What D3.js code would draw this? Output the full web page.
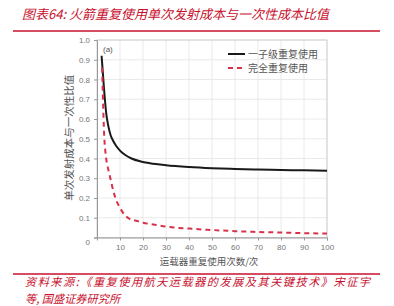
<!DOCTYPE html>
<html>
<head>
<meta charset="utf-8">
<script src="https://cdn.jsdelivr.net/npm/d3@7"></script>
<style>
  body { margin: 0; background: #fff; }
  svg { display: block; }
</style>
</head>
<body>
<div id="chart"></div>
<script>
// --- data ---
var usesOneStage = [2, 2.5, 3, 3.5, 4, 5, 6, 7, 8, 10, 12, 15, 19, 23, 30, 40, 50, 60, 70, 80, 90, 100];
var ratioOneStage = [0.92, 0.84, 0.76, 0.69, 0.63, 0.56, 0.515, 0.49, 0.47, 0.44, 0.42, 0.40, 0.385, 0.376, 0.366, 0.357, 0.351, 0.347, 0.344, 0.342, 0.340, 0.338];
var usesFull = [2.2, 2.5, 2.8, 3.2, 3.6, 4, 5, 6, 7, 8, 10, 12, 14, 17, 20, 25, 30, 40, 50, 60, 70, 80, 90, 100];
var ratioFull = [0.86, 0.74, 0.62, 0.5, 0.44, 0.40, 0.34, 0.29, 0.24, 0.20, 0.15, 0.115, 0.095, 0.085, 0.075, 0.065, 0.055, 0.045, 0.038, 0.032, 0.028, 0.025, 0.022, 0.02];
var xTicks = [10, 20, 30, 40, 50, 60, 70, 80, 90, 100];
var yTicks = [0, 0.1, 0.2, 0.3, 0.4, 0.5, 0.6, 0.7, 0.8, 0.9, 1.0];
var seriesNames = ["一子级重复使用", "完全重复使用"];

var svgWidth = 394, svgHeight = 306;
var margin = { top: 40, right: 67, bottom: 68.5, left: 97 };
var width = svgWidth - margin.left - margin.right;
var height = svgHeight - margin.top - margin.bottom;
var red = "#c8102e";
var cjk = "'Noto Sans CJK SC', sans-serif";

var svg = d3.select("#chart").append("svg").attr("width", svgWidth).attr("height", svgHeight);

// title + rules
svg.append("text").attr("x", 22).attr("y", 19)
  .attr("font-family", cjk).attr("font-size", 13).attr("font-style", "italic")
  .attr("fill", red)
  .text("图表64:  火箭重复使用单次发射成本与一次性成本比值");
svg.append("line").attr("x1", 13).attr("x2", 380).attr("y1", 31).attr("y2", 31)
  .attr("stroke", red).attr("stroke-width", 1.5);
svg.append("line").attr("x1", 13).attr("x2", 380).attr("y1", 274).attr("y2", 274)
  .attr("stroke", red).attr("stroke-width", 1.5);
svg.append("text").attr("x", 25).attr("y", 286)
  .attr("font-family", cjk).attr("font-size", 11.2).attr("font-style", "italic").attr("fill", red)
  .attr("textLength", 345).attr("lengthAdjust", "spacing")
  .text("资料来源:《重复使用航天运载器的发展及其关键技术》宋征宇");
svg.append("text").attr("x", 25).attr("y", 303)
  .attr("font-family", cjk).attr("font-size", 11.2).attr("font-style", "italic").attr("fill", red)
  .text("等, 国盛证券研究所");

var chartGroup = svg.append("g").attr("transform", `translate(${margin.left}, ${margin.top})`);

var x = d3.scaleLinear().domain([0, 100]).range([0, width]);
var y = d3.scaleLinear().domain([0, 1]).range([height, 0]);

// grid
chartGroup.append("g").selectAll("line").data(xTicks).enter().append("line")
  .attr("x1", d => x(d)).attr("x2", d => x(d)).attr("y1", 0).attr("y2", height)
  .attr("stroke", "#e4e4e4").attr("stroke-width", 0.8);
chartGroup.append("g").selectAll("line").data(yTicks.slice(1)).enter().append("line")
  .attr("x1", 0).attr("x2", width).attr("y1", d => y(d)).attr("y2", d => y(d))
  .attr("stroke", "#e4e4e4").attr("stroke-width", 0.8);
chartGroup.append("rect").attr("width", width).attr("height", height)
  .attr("fill", "none").attr("stroke", "#c8c8c8").attr("stroke-width", 0.8);

// axes
var xAxis = chartGroup.append("g").attr("transform", `translate(0, ${height})`)
  .call(d3.axisBottom(x).tickValues(xTicks).tickSize(3).tickPadding(4));
var yAxis = chartGroup.append("g")
  .call(d3.axisLeft(y).tickValues(yTicks).tickSize(3).tickPadding(4)
    .tickFormat(d => d === 0 ? "0" : d3.format(".1f")(d)));
[xAxis, yAxis].forEach(a => {
  a.select(".domain").attr("stroke", "#999");
  a.selectAll(".tick line").attr("stroke", "#999");
  a.selectAll("text").attr("fill", "#777").attr("font-size", 8).attr("font-family", "'Liberation Sans', Arial, sans-serif");
});
yAxis.selectAll(".tick").filter(d => d === 0).select("text").attr("dy", "0.9em");

// labels
chartGroup.append("text").attr("x", width / 2 - 3).attr("y", height + 27)
  .attr("text-anchor", "middle").attr("font-family", cjk).attr("font-size", 9.5).attr("fill", "#555")
  .text("运载器重复使用次数/次");
chartGroup.append("text").attr("transform", `translate(-24, ${height / 2 - 1}) rotate(-90)`)
  .attr("text-anchor", "middle").attr("font-family", cjk).attr("font-size", 10.5).attr("fill", "#555")
  .text("单次发射成本与一次性比值");
chartGroup.append("text").attr("x", 6).attr("y", 12)
  .attr("font-family", "'Liberation Sans', Arial, sans-serif").attr("font-size", 8).attr("fill", "#555")
  .text("(a)");

// curves
var line = d3.line().x(d => x(d[0])).y(d => y(d[1])).curve(d3.curveMonotoneX);
chartGroup.append("path").datum(usesOneStage.map((n, i) => [n, ratioOneStage[i]]))
  .attr("d", line).attr("fill", "none").attr("stroke", "#1a1a1a").attr("stroke-width", 2);
chartGroup.append("path").datum(usesFull.map((n, i) => [n, ratioFull[i]]))
  .attr("d", line).attr("fill", "none").attr("stroke", "#d8324a").attr("stroke-width", 2)
  .attr("stroke-dasharray", "5,4");

// legend
var legend = chartGroup.append("g").attr("transform", "translate(131, 14)");
seriesNames.forEach((name, i) => {
  legend.append("line").attr("x1", 0).attr("x2", 17).attr("y1", i * 14).attr("y2", i * 14)
    .attr("stroke", i === 0 ? "#1a1a1a" : "#d8324a").attr("stroke-width", 2)
    .attr("stroke-dasharray", i === 0 ? null : "5,4");
  legend.append("text").attr("x", 20).attr("y", i * 14 + 3.5)
    .attr("font-family", cjk).attr("font-size", 10).attr("fill", "#555").text(name);
});
</script>
</body>
</html>
